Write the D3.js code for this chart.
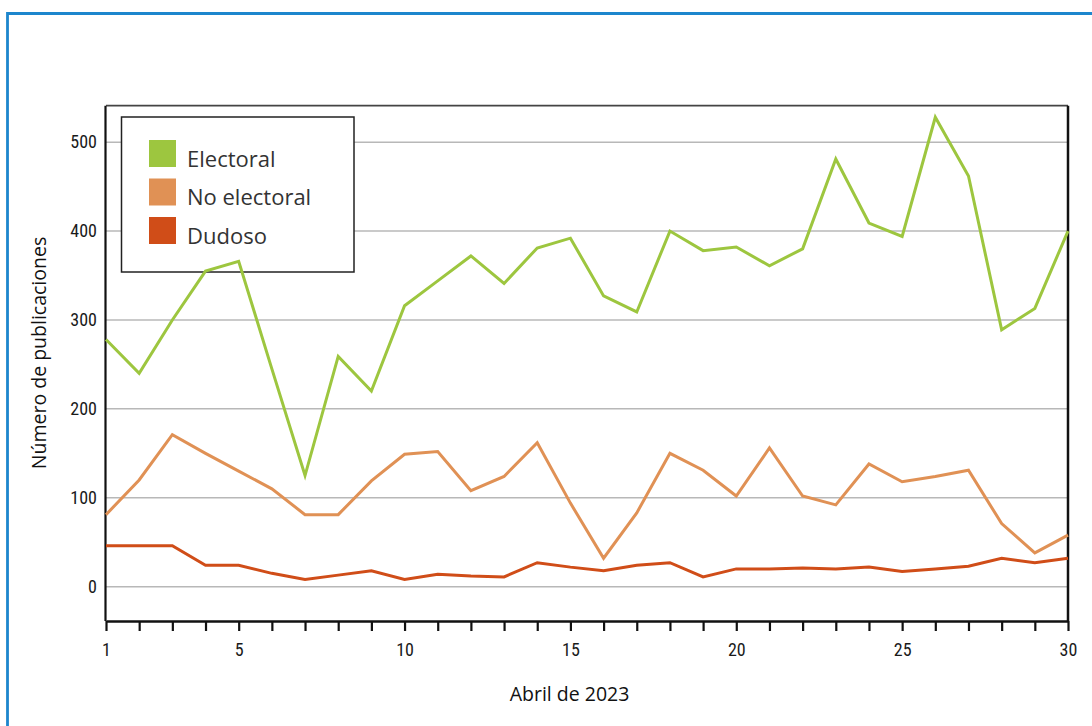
<!DOCTYPE html>
<html><head><meta charset="utf-8">
<script src="https://cdn.jsdelivr.net/npm/d3@7"></script>
<style>
html,body{margin:0;padding:0;background:#fff;}
svg{display:block;}
</style></head>
<body>
<script>
const days = d3.range(1, 31);
const electoral = [278,240,300,355,366,245,125,259,220,316,344,372,341,381,392,327,309,400,378,382,361,380,481,409,394,528,462,289,313,400];
const noElectoral = [81,120,171,150,130,110,81,81,119,149,152,108,124,162,94,32,83,150,131,102,156,102,92,138,118,124,131,71,38,58];
const dudoso = [46,46,46,24,24,15,8,13,18,8,14,12,11,27,22,18,24,27,11,20,20,21,20,22,17,20,23,32,27,32];
const seriesNames = ["Electoral","No electoral","Dudoso"];
const seriesColors = ["#9dc63f","#e09155","#d04d18"];
const yTicks = [0,100,200,300,400,500];
const xTickLabels = [1,5,10,15,20,25,30];
const xTitle = "Abril de 2023";
const yTitle = "Número de publicaciones";

const W = 1092, H = 726;
const svg = d3.select("body").append("svg").attr("width", W).attr("height", H);

// blue frame
svg.append("path").attr("d", `M7.5,${H+5} V13.5 H${W+5}`)
  .attr("fill","none").attr("stroke","#1d86cd").attr("stroke-width",2.8);

const x = d3.scaleLinear().domain([1,30]).range([106,1068]);
const y = d3.scaleLinear().domain([-38.6,541]).range([621,105.7]);

const tickFont = "'Liberation Sans Narrow','Arial Narrow','Roboto Condensed',sans-serif";
const textFont = "'Open Sans','Noto Sans',sans-serif";

// gridlines
svg.append("g").selectAll("line").data(yTicks).join("line")
  .attr("x1", x(1)).attr("x2", x(30))
  .attr("y1", d=>y(d)).attr("y2", d=>y(d))
  .attr("stroke","#b8b8b8").attr("stroke-width",1.5);

// y labels
svg.append("g").selectAll("text").data(yTicks).join("text")
  .attr("x", 97).attr("y", d=>y(d)).attr("dy","0.35em")
  .attr("text-anchor","end").attr("font-family",tickFont).attr("font-size",18)
  .attr("font-weight",400).attr("fill","#1a1a1a").text(d=>d);

// top and right frame
svg.append("line").attr("x1",x(1)).attr("x2",x(30)).attr("y1",y(541)).attr("y2",y(541))
  .attr("stroke","#444").attr("stroke-width",1.8);
svg.append("line").attr("x1",x(30)).attr("x2",x(30)).attr("y1",y(541)).attr("y2",y(-38.6))
  .attr("stroke","#111").attr("stroke-width",2.5);
// left axis
svg.append("line").attr("x1",x(1)-0.5).attr("x2",x(1)-0.5).attr("y1",y(541)).attr("y2",y(-38.6))
  .attr("stroke","#111").attr("stroke-width",2.2);

// bottom axis
const xAxis = d3.axisBottom(x).tickValues(days).tickSize(10).tickSizeOuter(0)
  .tickFormat(d => xTickLabels.includes(d) ? d : "");
const gx = svg.append("g").attr("transform",`translate(0,${y(-38.6)})`).call(xAxis);
gx.select(".domain").attr("stroke","#111").attr("stroke-width",2.5);
gx.selectAll(".tick line").attr("stroke","#111").attr("stroke-width",2.2);
gx.selectAll(".tick text").attr("font-family",tickFont).attr("font-size",18).attr("font-weight",400)
  .attr("fill","#1a1a1a").attr("dy","1.2em");

// legend (drawn beneath the lines)
const lg = svg.append("g");
lg.append("rect").attr("x",121.5).attr("y",117).attr("width",232.5).attr("height",155)
  .attr("fill","#fff").attr("stroke","#222").attr("stroke-width",1.5);
seriesNames.forEach((n,i)=>{
  const yy = 140 + i*38.5;
  lg.append("rect").attr("x",149).attr("y",yy).attr("width",27).attr("height",27).attr("fill",seriesColors[i]);
  lg.append("text").attr("x",187).attr("y",yy+26.5).attr("font-family",textFont).attr("font-weight",400)
    .attr("font-size",22).attr("fill","#333").text(n);
});

// lines
const allSeries = [electoral, noElectoral, dudoso];
const line = d3.line().x((d,i)=>x(days[i])).y(d=>y(d));
[2,1,0].forEach(k=>{
  svg.append("path").datum(allSeries[k]).attr("d", line)
    .attr("fill","none").attr("stroke", seriesColors[k]).attr("stroke-width",3)
    .attr("stroke-linejoin","miter");
});

// axis titles
svg.append("text").attr("x",569.5).attr("y",701).attr("text-anchor","middle")
  .attr("font-family",textFont).attr("font-size",19.5).attr("fill","#111").text(xTitle);
svg.append("text").attr("transform","translate(46,353) rotate(-90)").attr("text-anchor","middle")
  .attr("font-family",textFont).attr("font-size",19.5).attr("fill","#111").text(yTitle);
</script>
</body></html>
